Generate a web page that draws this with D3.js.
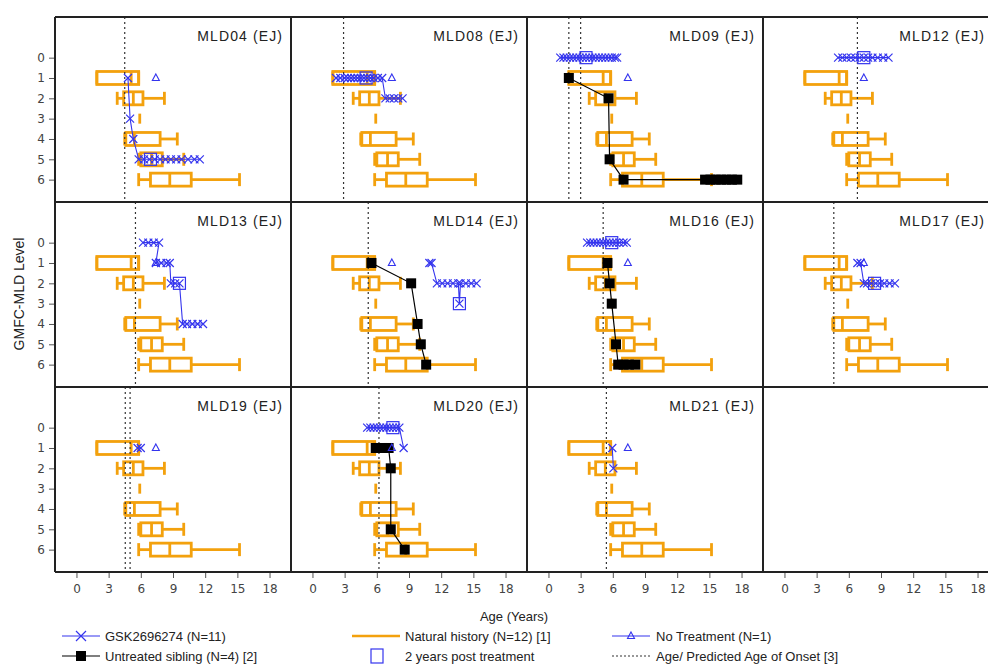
<!DOCTYPE html>
<html><head><meta charset="utf-8">
<script src="https://cdn.jsdelivr.net/npm/d3@7"></script>
<style>body{margin:0;background:#fff}</style>
</head><body><svg id="c" width="988" height="666"></svg>
<script>
// ---------- data ----------
const panelNames = ["MLD04 (EJ)","MLD08 (EJ)","MLD09 (EJ)","MLD12 (EJ)",
                    "MLD13 (EJ)","MLD14 (EJ)","MLD16 (EJ)","MLD17 (EJ)",
                    "MLD19 (EJ)","MLD20 (EJ)","MLD21 (EJ)"];
const onsetAges = [[4.5],[2.9],[1.9,3.0],[6.8],[5.5],[5.2],[5.1],[4.6],[4.55,5.0],[6.2],[5.4]];

// natural history box plots (levels 1..6)
const nhLevels = [1,2,3,4,5,6];
const nhMin    = [1.9,3.8,5.9,4.5,5.8,5.8];
const nhQ1     = [1.9,4.4,5.9,4.6,6.0,6.9];
const nhMedian = [5.1,5.3,5.9,5.4,7.0,8.7];
const nhQ3     = [5.8,6.2,5.9,7.8,8.0,10.7];
const nhMax    = [5.8,8.2,5.9,9.4,10.0,15.2];

// GSK2696274 treated patients: [age, level] per panel
const gskPoints = [
  [[4.8,1],[5.0,3],[5.3,4],[5.8,5],[6.3,5],[6.8,5],[7.3,5],[7.8,5],[8.3,5],[8.8,5],[9.3,5],[9.8,5],[10.4,5],[11.0,5],[11.5,5]],
  [[2.2,1],[2.6,1],[3.0,1],[3.3,1],[3.6,1],[3.9,1],[4.2,1],[4.5,1],[4.8,1],[5.1,1],[5.4,1],[5.7,1],[6.1,1],[6.5,1],[6.8,2],[7.2,2],[7.6,2],[8.0,2],[8.4,2]],
  [[1.1,0],[1.4,0],[1.7,0],[2.0,0],[2.3,0],[2.6,0],[2.9,0],[3.2,0],[3.5,0],[3.8,0],[4.1,0],[4.4,0],[4.7,0],[5.0,0],[5.3,0],[5.6,0],[5.9,0],[6.2,0],[6.4,0]],
  [[5.0,0],[5.4,0],[5.8,0],[6.2,0],[6.6,0],[7.0,0],[7.4,0],[7.8,0],[8.2,0],[8.7,0],[9.2,0],[9.7,0]],
  [[6.2,0],[6.7,0],[7.2,0],[7.7,0],[7.4,1],[7.9,1],[8.4,1],[8.7,1],[8.8,2],[9.2,2],[9.6,2],[9.9,4],[10.3,4],[10.8,4],[11.3,4],[11.8,4]],
  [[10.9,1],[11.1,1],[11.6,2],[12.1,2],[12.6,2],[13.1,2],[13.6,2],[13.7,3],[13.8,2],[14.3,2],[14.8,2],[15.3,2]],
  [[3.6,0],[3.9,0],[4.2,0],[4.5,0],[4.8,0],[5.1,0],[5.4,0],[5.7,0],[6.0,0],[6.3,0],[6.6,0],[7.0,0],[7.3,0]],
  [[6.8,1],[7.1,1],[7.4,2],[7.7,2],[8.1,2],[8.5,2],[8.9,2],[9.3,2],[9.8,2],[10.3,2]],
  [[5.7,1],[6.0,1]],
  [[5.1,0],[5.4,0],[5.7,0],[6.0,0],[6.3,0],[6.6,0],[6.9,0],[7.2,0],[7.5,0],[7.8,0],[8.1,0],[8.5,1]],
  [[5.95,1],[6.05,2]]
];
// 2 years post treatment marker per panel (null = none)
const postTreatment = [[6.9,5],[5.0,1],[3.5,0],[7.4,0],[9.6,2],[13.7,3],[5.9,0],[8.4,2],null,[7.5,0],null];
// untreated siblings per panel
const siblingPoints = [
  [],[],
  [[1.9,1],[5.6,2],[5.7,5],[7.0,6],[14.6,6],[15.1,6],[15.6,6],[16.1,6],[16.6,6],[17.1,6],[17.6,6]],
  [],[],
  [[5.5,1],[9.2,2],[9.8,4],[10.1,5],[10.6,6]],
  [[5.5,1],[5.7,2],[5.9,3],[6.3,5],[6.5,6],[7.0,6],[7.5,6],[8.1,6]],
  [],[],
  [[5.9,1],[6.5,1],[7.1,1],[7.3,2],[7.3,5],[8.6,6]],
  []
];
const noTreatment = [7.4,1];
const xTicks = [0,3,6,9,12,15,18];
const yTicks = [0,1,2,3,4,5,6];

// ---------- styles ----------
const ORANGE = "#f3a10d", BLUE = "#3434ee", FRAME = "#222";
const leftX = 55, topY = 17, pw = 236, ph = 185, ncol = 4, nrow = 3, W = 988;

const svg = d3.select("#c");
const x = d3.scaleLinear().domain([-2,20]).range([0,pw]);
const y = d3.scaleLinear().domain([-2,7.1]).range([0,ph]);

function xMark(g, cx, cy, s, col){
  g.append("path").attr("d",`M${cx-s},${cy-s}L${cx+s},${cy+s}M${cx-s},${cy+s}L${cx+s},${cy-s}`)
   .attr("stroke",col).attr("stroke-width",1.2).attr("fill","none");
}
function triMark(g, cx, cy, col){
  g.append("path").attr("d",`M${cx},${cy-4}L${cx+3.5},${cy+2.5}L${cx-3.5},${cy+2.5}Z`)
   .attr("stroke",col).attr("stroke-width",1.1).attr("fill","none");
}

for (let r=0;r<nrow;r++) for (let c=0;c<ncol;c++){
  const i = r*ncol+c;
  const px = leftX+c*pw;
  const g = svg.append("g").attr("transform",`translate(${px},${topY+r*ph})`);
  if (c===0){
    const ya = d3.axisLeft(y).tickValues(yTicks).tickSize(6).tickPadding(4);
    const ag = g.append("g").call(ya);
    ag.select(".domain").remove();
    ag.selectAll("line").attr("stroke","#555");
    ag.selectAll("text").attr("font-family","DejaVu Sans").attr("font-size",12).attr("fill","#444");
  }
  if (r===nrow-1){
    const xa = d3.axisBottom(x).tickValues(xTicks).tickSize(6).tickPadding(6);
    const ag = g.append("g").attr("transform",`translate(0,${ph})`).call(xa);
    ag.select(".domain").remove();
    ag.selectAll("line").attr("stroke","#555");
    ag.selectAll("text").attr("font-family","DejaVu Sans").attr("font-size",12).attr("fill","#444");
  }
  if (i >= panelNames.length) continue;
  const cg = g.append("g");
  nhLevels.forEach((lv,k)=>{
    const yc = y(lv), h = 6.5;
    const b = cg.append("g").attr("stroke",ORANGE).attr("stroke-width",2.8).attr("fill","none");
    if (nhMin[k]===nhMax[k]){
      b.append("line").attr("x1",x(nhMin[k])).attr("x2",x(nhMin[k])).attr("y1",yc-5).attr("y2",yc+5);
      return;
    }
    b.append("line").attr("x1",x(nhMin[k])).attr("x2",x(nhQ1[k])).attr("y1",yc).attr("y2",yc);
    b.append("line").attr("x1",x(nhQ3[k])).attr("x2",x(nhMax[k])).attr("y1",yc).attr("y2",yc);
    b.append("line").attr("x1",x(nhMin[k])).attr("x2",x(nhMin[k])).attr("y1",yc-h).attr("y2",yc+h);
    b.append("line").attr("x1",x(nhMax[k])).attr("x2",x(nhMax[k])).attr("y1",yc-h).attr("y2",yc+h);
    b.append("rect").attr("x",x(nhQ1[k])).attr("y",yc-h).attr("width",x(nhQ3[k])-x(nhQ1[k])).attr("height",2*h);
    b.append("line").attr("x1",x(nhMedian[k])).attr("x2",x(nhMedian[k])).attr("y1",yc-h).attr("y2",yc+h);
  });
  onsetAges[i].forEach(a=>{
    cg.append("line").attr("x1",x(a)).attr("x2",x(a)).attr("y1",0).attr("y2",ph)
      .attr("stroke","#333").attr("stroke-width",1.2).attr("stroke-dasharray","2,3");
  });
  const sib = siblingPoints[i];
  if (sib.length){
    cg.append("path").attr("d",d3.line().x(d=>x(d[0])).y(d=>y(d[1]))(sib))
      .attr("stroke","#000").attr("stroke-width",1.2).attr("fill","none");
  }
  const gp = gskPoints[i];
  cg.append("path").attr("d",d3.line().x(d=>x(d[0])).y(d=>y(d[1]))(gp))
    .attr("stroke",BLUE).attr("stroke-width",1.1).attr("fill","none");
  gp.forEach(d=>xMark(cg,x(d[0]),y(d[1]),4,BLUE));
  sib.forEach(d=>cg.append("rect").attr("x",x(d[0])-5).attr("y",y(d[1])-5).attr("width",10).attr("height",10).attr("fill","#000"));
  const pt = postTreatment[i];
  if (pt) cg.append("rect").attr("x",x(pt[0])-6).attr("y",y(pt[1])-6).attr("width",12).attr("height",12)
            .attr("fill","none").attr("stroke",BLUE).attr("stroke-width",1.2);
  triMark(cg, x(noTreatment[0]), y(noTreatment[1]), BLUE);
  const tx = Math.min(pw-8, W-px-3);
  g.append("text").attr("x",tx).attr("y",24).attr("text-anchor","end")
   .attr("font-family","Liberation Sans").attr("font-size",14).attr("letter-spacing",1.1)
   .attr("fill","#222").text(panelNames[i]);
}
const fg = svg.append("g").attr("stroke",FRAME).attr("stroke-width",2);
for (let c=0;c<=ncol;c++) fg.append("line").attr("x1",leftX+c*pw).attr("x2",leftX+c*pw).attr("y1",topY).attr("y2",topY+nrow*ph);
for (let r=0;r<=nrow;r++) fg.append("line").attr("x1",leftX).attr("x2",leftX+ncol*pw).attr("y1",topY+r*ph).attr("y2",topY+r*ph);

svg.append("text").attr("x",514).attr("y",621).attr("text-anchor","middle")
  .attr("font-family","Liberation Sans").attr("font-size",13).attr("fill","#222").text("Age (Years)");
svg.append("text").attr("transform","translate(24,294) rotate(-90)").attr("text-anchor","middle")
  .attr("font-family","Liberation Sans").attr("font-size",14).attr("fill","#222").text("GMFC-MLD Level");

const lg = svg.append("g").attr("font-family","Liberation Sans").attr("font-size",13).attr("fill","#222");
function ltext(xx,yy,t){ lg.append("text").attr("x",xx).attr("y",yy).attr("dy","0.35em").text(t); }
const r1 = 636, r2 = 656;
lg.append("line").attr("x1",62).attr("x2",100).attr("y1",r1).attr("y2",r1).attr("stroke",BLUE).attr("stroke-width",1.2);
xMark(lg,81,r1,5,BLUE); ltext(105,r1,"GSK2696274 (N=11)");
lg.append("line").attr("x1",352).attr("x2",400).attr("y1",r1).attr("y2",r1).attr("stroke",ORANGE).attr("stroke-width",2.5);
ltext(405,r1,"Natural history (N=12) [1]");
lg.append("line").attr("x1",612).attr("x2",650).attr("y1",r1).attr("y2",r1).attr("stroke",BLUE).attr("stroke-width",1.2);
triMark(lg,631,r1,BLUE); ltext(656,r1,"No Treatment (N=1)");
lg.append("line").attr("x1",62).attr("x2",100).attr("y1",r2).attr("y2",r2).attr("stroke","#000").attr("stroke-width",1.2);
lg.append("rect").attr("x",76).attr("y",r2-5).attr("width",10).attr("height",10).attr("fill","#000");
ltext(105,r2,"Untreated sibling (N=4) [2]");
lg.append("rect").attr("x",371).attr("y",r2-7).attr("width",12).attr("height",14).attr("fill","none").attr("stroke",BLUE).attr("stroke-width",1.2);
ltext(405,r2,"2 years post treatment");
lg.append("line").attr("x1",612).attr("x2",650).attr("y1",r2).attr("y2",r2).attr("stroke","#333").attr("stroke-width",1.2).attr("stroke-dasharray","2,2");
ltext(656,r2,"Age/ Predicted Age of Onset [3]");
</script></body></html>
